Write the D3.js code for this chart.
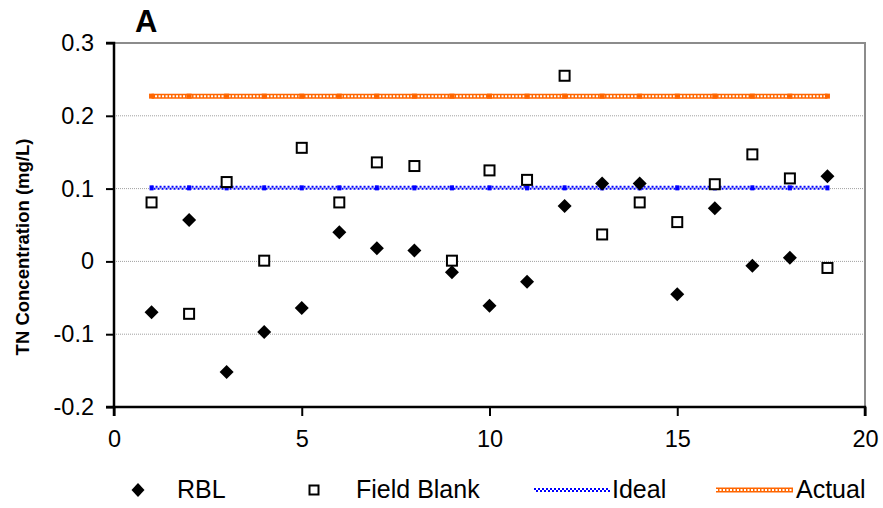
<!DOCTYPE html>
<html><head><meta charset="utf-8">
<script src="https://cdn.jsdelivr.net/npm/d3@7"></script>
<style>body{margin:0;background:#fff}svg{display:block;font-family:"Liberation Sans",Arial,sans-serif}</style>
</head><body><svg id="c" width="883" height="508"></svg>
<script>
const samples = [1,2,3,4,5,6,7,8,9,10,11,12,13,14,15,16,17,18,19];
const rbl = [-0.070,0.057,-0.152,-0.097,-0.064,0.040,0.018,0.015,-0.015,-0.061,-0.028,0.076,0.107,0.107,-0.045,0.073,-0.006,0.005,0.117];
const fieldBlank = [0.081,-0.072,0.109,0.001,0.156,0.081,0.136,0.131,0.001,0.125,0.112,0.255,0.037,0.081,0.054,0.106,0.147,0.114,-0.009];
const ideal = samples.map(() => 0.101);
const actual = samples.map(() => 0.227);
const yTicks = [-0.2,-0.1,0,0.1,0.2,0.3];
const yTickLabels = ["-0.2","-0.1","0","0.1","0.2","0.3"];
const xTicks = [0,5,10,15,20];
const legendLabels = ["RBL","Field Blank","Ideal","Actual"];

const svg = d3.select("#c");
const x = d3.scaleLinear().domain([0,20]).range([114,865]);
const y = d3.scaleLinear().domain([-0.2,0.3]).range([407,43]);

// gridlines
svg.append("g").selectAll("line").data(yTicks.filter(t=>t>-0.2 && t<0.3)).join("line")
  .attr("x1",114).attr("x2",865).attr("y1",d=>y(d)).attr("y2",d=>y(d))
  .attr("stroke","#a0a0a0").attr("stroke-width",1).attr("stroke-dasharray","1,1");
// top and right border
svg.append("line").attr("x1",114).attr("x2",866).attr("y1",y(0.3)).attr("y2",y(0.3)).attr("stroke","#8c8c8c").attr("stroke-width",2);
svg.append("line").attr("x1",865).attr("x2",865).attr("y1",y(0.3)).attr("y2",408).attr("stroke","#8c8c8c").attr("stroke-width",2);

// axes
const yAxis = d3.axisLeft(y).tickValues(yTicks).tickFormat((d,i)=>yTickLabels[i]).tickSize(8).tickPadding(12);
const gy = svg.append("g").attr("transform","translate(114,0)").call(yAxis);
const xAxis = d3.axisBottom(x).tickValues(xTicks).tickSize(9).tickPadding(14);
const gx = svg.append("g").attr("transform","translate(0,407)").call(xAxis);
[gy,gx].forEach(g=>{
  g.select(".domain").attr("stroke","#000").attr("stroke-width",2.5);
  g.selectAll(".tick line").attr("stroke","#000").attr("stroke-width",2);
  g.selectAll(".tick text").attr("font-size",23.5).attr("fill","#000").attr("font-family","Liberation Sans, Arial, sans-serif");
});
gy.select(".domain").attr("d","M-8,43H0V407H-8");
gx.select(".domain").attr("d","M114,9V0H865V9");

// patterned lines
function patternLine(g, vals, kind){
  const line = d3.line().x((d,i)=>x(samples[i])).y(d=>y(d));
  if(kind==="blue"){
    g.append("path").datum(vals).attr("d",line).attr("transform","translate(0,-1)")
      .attr("fill","none").attr("stroke","#0000ff").attr("stroke-width",2).attr("stroke-dasharray","2,2");
    g.append("path").datum(vals).attr("d",line).attr("transform","translate(0,1)")
      .attr("fill","none").attr("stroke","#0000ff").attr("stroke-width",2).attr("stroke-dasharray","2,2").attr("stroke-dashoffset",2);
    g.selectAll("rect.m").data(vals).join("rect").attr("class","m")
      .attr("x",(d,i)=>x(samples[i])-2).attr("y",d=>y(d)-2.5).attr("width",4).attr("height",5).attr("fill","#0000ff");
  } else {
    g.append("path").datum(vals).attr("d",line)
      .attr("fill","none").attr("stroke","#ff6600").attr("stroke-width",5);
    g.append("path").datum(vals).attr("d",line)
      .attr("fill","none").attr("stroke","#fff").attr("stroke-width",2).attr("stroke-dasharray","2,1.5");
    g.selectAll("rect.m").data(vals).join("rect").attr("class","m")
      .attr("x",(d,i)=>x(samples[i])-2.5).attr("y",d=>y(d)-2.5).attr("width",5).attr("height",5).attr("fill","#ff6600");
  }
}
patternLine(svg.append("g"), ideal, "blue");
patternLine(svg.append("g"), actual, "orange");

// field blank squares
svg.append("g").selectAll("rect").data(fieldBlank).join("rect")
  .attr("x",(d,i)=>x(samples[i])-5).attr("y",d=>y(d)-5).attr("width",10).attr("height",10)
  .attr("fill","#fff").attr("stroke","#000").attr("stroke-width",2);
// RBL diamonds
const dia = "M0,-7L7,0L0,7L-7,0Z";
svg.append("g").selectAll("path").data(rbl).join("path")
  .attr("d",dia).attr("transform",(d,i)=>`translate(${x(samples[i])},${y(d)})`).attr("fill","#000");

// labels
svg.append("text").attr("transform","translate(29,247) rotate(-90)").attr("text-anchor","middle")
  .attr("font-size",18.5).attr("font-weight","bold").text("TN Concentration (mg/L)");
svg.append("text").attr("x",135).attr("y",32).attr("font-size",31).attr("font-weight","bold").text("A");

// legend
const ly = 490;
const lg = svg.append("g").attr("font-size",25);
lg.append("path").attr("d","M0,-7L6.5,0L0,7L-6.5,0Z").attr("transform",`translate(138,${ly})`).attr("fill","#000");
lg.append("text").attr("x",177).attr("y",ly+8).text(legendLabels[0]);
lg.append("rect").attr("x",309.5).attr("y",ly-4.5).attr("width",9).attr("height",9).attr("fill","#fff").attr("stroke","#000").attr("stroke-width",2);
lg.append("text").attr("x",356).attr("y",ly+8).text(legendLabels[1]);
lg.append("line").attr("x1",534).attr("x2",610).attr("y1",ly-1).attr("y2",ly-1).attr("stroke","#0000ff").attr("stroke-width",2).attr("stroke-dasharray","2,2");
lg.append("line").attr("x1",534).attr("x2",610).attr("y1",ly+1).attr("y2",ly+1).attr("stroke","#0000ff").attr("stroke-width",2).attr("stroke-dasharray","2,2").attr("stroke-dashoffset",2);
lg.append("text").attr("x",612).attr("y",ly+8).text(legendLabels[2]);
lg.append("line").attr("x1",716).attr("x2",793).attr("y1",ly).attr("y2",ly).attr("stroke","#ff6600").attr("stroke-width",5);
lg.append("line").attr("x1",716).attr("x2",793).attr("y1",ly).attr("y2",ly).attr("stroke","#fff").attr("stroke-width",2).attr("stroke-dasharray","2,1.5");
lg.append("text").attr("x",796).attr("y",ly+8).text(legendLabels[3]);
</script></body></html>
